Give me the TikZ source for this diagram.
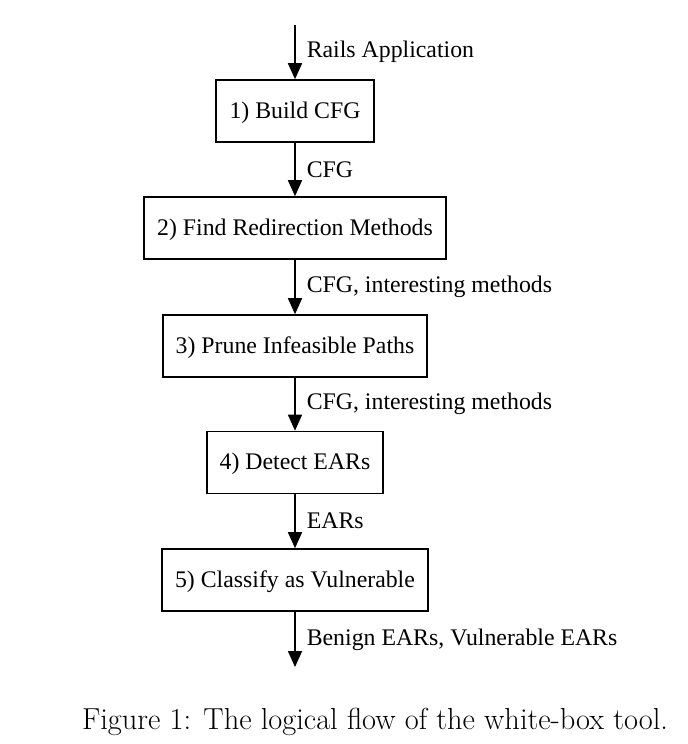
\documentclass[tikz,border=0pt]{standalone}
\usepackage{fontspec}
\setmainfont{Liberation Serif}
\newfontfamily\captionfont{Latin Modern Roman}
\usetikzlibrary{arrows.meta}
\begin{document}
\begin{tikzpicture}[x=0.5pt,y=-0.5pt,
  stage/.style={draw,line width=0.8pt,minimum height=31pt,inner sep=0pt,text depth=1pt,font=\fontsize{11.9}{13}\selectfont},
  flow/.style={line width=0.8pt,-{Triangle[length=8pt,width=7pt]}},
  data/.style={anchor=west,xshift=5.5pt,inner sep=0pt,font=\fontsize{11.9}{13}\selectfont}]
\useasboundingbox (0,0) rectangle (687,744);
\coordinate (input) at (295,25);
\coordinate (output) at (295,667);
% Draw stages
\node[stage,minimum width=79pt] (build) at (295,111) {1) Build CFG};
\node[stage,minimum width=151pt] (find) at (295,228) {2) Find Redirection Methods};
\node[stage,minimum width=132pt] (prune) at (295,346) {3) Prune Infeasible Paths};
\node[stage,minimum width=88pt] (detect) at (295,462.5) {4) Detect EARs};
\node[stage,minimum width=133pt] (classify) at (295,580) {5) Classify as Vulnerable};
% Draw flow between stages
\draw[flow] (input) -- (build) node[data,midway] {Rails Application};
\draw[flow] (build) -- (find) node[data,midway] {CFG};
\draw[flow] (find) -- (prune) node[data,midway] {CFG, interesting methods};
\draw[flow] (prune) -- (detect) node[data,midway] {CFG, interesting methods};
\draw[flow] (detect) -- (classify) node[data,midway] {EARs};
\draw[flow] (classify) -- (output) node[data,midway] {Benign EARs, Vulnerable EARs};
% Caption
\node[font=\captionfont\fontsize{15.2}{17}\selectfont] (caption) at (375,722) {Figure 1: The logical flow of the white-box tool.};
\end{tikzpicture}
\end{document}
